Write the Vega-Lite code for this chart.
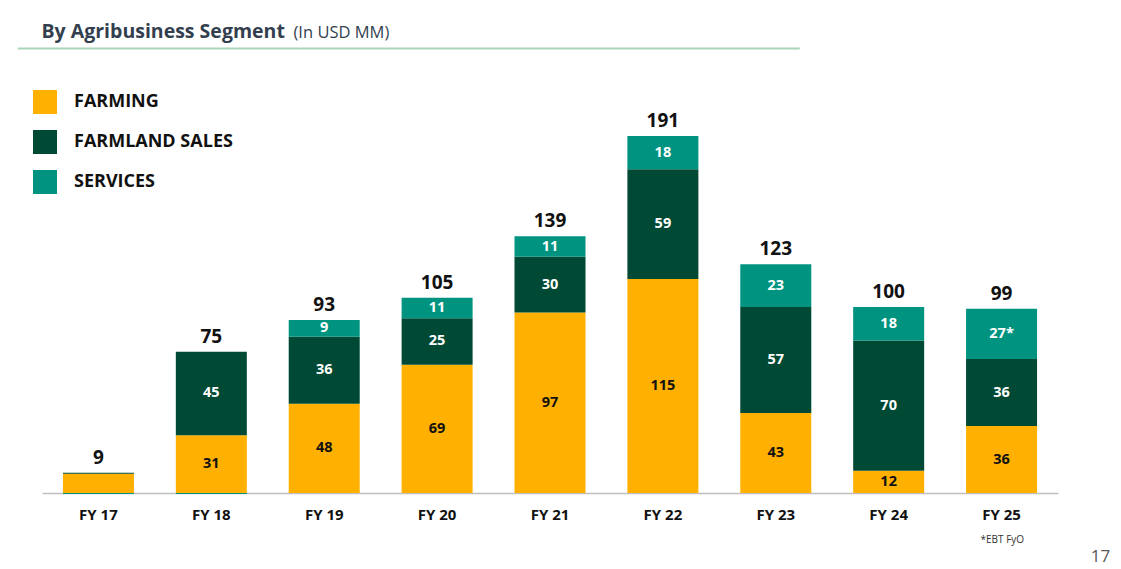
{
  "$schema": "https://vega.github.io/schema/vega-lite/v6.json",
  "autosize": "none",
  "width": 1016,
  "height": 372,
  "padding": {"left": 42, "top": 121, "right": 63, "bottom": 76},
  "background": "white",
  "config": {
    "view": {"stroke": null},
    "font": "Open Sans"
  },
  "datasets": {
    "segments": [
      {"year": "FY 17", "segment": "FARMING", "value": 10.3, "label": "", "ord": 1},
      {"year": "FY 17", "segment": "FARMLAND SALES", "value": 0.6, "label": "", "ord": 2},
      {"year": "FY 17", "segment": "SERVICES", "value": -0.6, "label": "", "ord": 3},
      {"year": "FY 18", "segment": "FARMING", "value": 31, "label": "31", "ord": 1},
      {"year": "FY 18", "segment": "FARMLAND SALES", "value": 45, "label": "45", "ord": 2},
      {"year": "FY 18", "segment": "SERVICES", "value": -0.6, "label": "", "ord": 3},
      {"year": "FY 19", "segment": "FARMING", "value": 48, "label": "48", "ord": 1},
      {"year": "FY 19", "segment": "FARMLAND SALES", "value": 36, "label": "36", "ord": 2},
      {"year": "FY 19", "segment": "SERVICES", "value": 9, "label": "9", "ord": 3},
      {"year": "FY 20", "segment": "FARMING", "value": 69, "label": "69", "ord": 1},
      {"year": "FY 20", "segment": "FARMLAND SALES", "value": 25, "label": "25", "ord": 2},
      {"year": "FY 20", "segment": "SERVICES", "value": 11, "label": "11", "ord": 3},
      {"year": "FY 21", "segment": "FARMING", "value": 97, "label": "97", "ord": 1},
      {"year": "FY 21", "segment": "FARMLAND SALES", "value": 30, "label": "30", "ord": 2},
      {"year": "FY 21", "segment": "SERVICES", "value": 11, "label": "11", "ord": 3},
      {"year": "FY 22", "segment": "FARMING", "value": 115, "label": "115", "ord": 1},
      {"year": "FY 22", "segment": "FARMLAND SALES", "value": 59, "label": "59", "ord": 2},
      {"year": "FY 22", "segment": "SERVICES", "value": 18, "label": "18", "ord": 3},
      {"year": "FY 23", "segment": "FARMING", "value": 43, "label": "43", "ord": 1},
      {"year": "FY 23", "segment": "FARMLAND SALES", "value": 57, "label": "57", "ord": 2},
      {"year": "FY 23", "segment": "SERVICES", "value": 23, "label": "23", "ord": 3},
      {"year": "FY 24", "segment": "FARMING", "value": 12, "label": "12", "ord": 1},
      {"year": "FY 24", "segment": "FARMLAND SALES", "value": 70, "label": "70", "ord": 2},
      {"year": "FY 24", "segment": "SERVICES", "value": 18, "label": "18", "ord": 3},
      {"year": "FY 25", "segment": "FARMING", "value": 36, "label": "36", "ord": 1},
      {"year": "FY 25", "segment": "FARMLAND SALES", "value": 36, "label": "36", "ord": 2},
      {"year": "FY 25", "segment": "SERVICES", "value": 27, "label": "27*", "ord": 3}
    ],
    "totals": [
      {"year": "FY 17", "total": 10.9, "label": "9"},
      {"year": "FY 18", "total": 76, "label": "75"},
      {"year": "FY 19", "total": 93, "label": "93"},
      {"year": "FY 20", "total": 105, "label": "105"},
      {"year": "FY 21", "total": 138, "label": "139"},
      {"year": "FY 22", "total": 192, "label": "191"},
      {"year": "FY 23", "total": 123, "label": "123"},
      {"year": "FY 24", "total": 100, "label": "100"},
      {"year": "FY 25", "total": 99, "label": "99"}
    ],
    "deco": [{"a": 1}]
  },
  "resolve": {"axis": {"x": "independent", "y": "independent"}},
  "layer": [
    {
      "data": {"name": "segments"},
      "mark": {"type": "bar", "width": 71},
      "encoding": {
        "x": {
          "field": "year", "type": "nominal", "sort": null,
          "scale": {"paddingInner": 0.37, "paddingOuter": 0.185},
          "axis": {
            "title": "*EBT FyO", "titleX": 938, "titleY": 49, "titleAlign": "left",
            "titleBaseline": "alphabetic", "titleFontSize": 10, "titleFontWeight": "normal",
            "titleColor": "#333333", "titleFont": "Open Sans",
            "labelAngle": 0, "labelFontSize": 15, "labelFontWeight": "bold", "labelColor": "#111111",
            "labelPadding": 14, "ticks": false, "domainColor": "#BFBFBF", "domainWidth": 1.5
          }
        },
        "y": {
          "field": "value", "type": "quantitative", "stack": "zero",
          "scale": {"domain": [0, 200], "nice": false},
          "axis": {
            "orient": "right", "labels": false, "ticks": false, "domain": false, "grid": false,
            "title": "17", "titleAngle": 0, "titleX": 42, "titleY": 440, "titleAlign": "center",
            "titleBaseline": "alphabetic", "titleFontSize": 17, "titleFontWeight": "normal", "titleColor": "#595959"
          }
        },
        "order": {"field": "ord", "type": "quantitative"},
        "color": {
          "field": "segment", "type": "nominal",
          "scale": {
            "domain": ["FARMING", "FARMLAND SALES", "SERVICES"],
            "range": ["#FFB000", "#004A35", "#009480"]
          },
          "legend": {
            "orient": "none", "legendX": -9, "legendY": -31, "title": null,
            "symbolType": "square", "symbolSize": 576, "symbolStrokeWidth": 0, "symbolOpacity": 1,
            "labelFontSize": 18, "labelFontWeight": "bold", "labelColor": "#111111", "labelFont": "Open Sans",
            "labelOffset": 17, "rowPadding": 16, "padding": 0
          }
        }
      }
    },
    {
      "data": {"name": "segments"},
      "transform": [
        {"stack": "value", "groupby": ["year"], "sort": [{"field": "ord"}], "as": ["v0", "v1"]},
        {"calculate": "(datum.v0 + datum.v1) / 2", "as": "mid"}
      ],
      "mark": {"type": "text", "fontSize": 14.5, "fontWeight": "bold", "font": "Open Sans", "baseline": "middle"},
      "encoding": {
        "x": {"field": "year", "type": "nominal", "sort": null, "axis": null},
        "y": {"field": "mid", "type": "quantitative", "axis": null},
        "text": {"field": "label"},
        "color": {
          "condition": {"test": "datum.segment === 'FARMING'", "value": "#111111"},
          "value": "#FFFFFF"
        }
      }
    },
    {
      "data": {"name": "totals"},
      "mark": {"type": "text", "fontSize": 19, "fontWeight": "bold", "font": "Open Sans", "baseline": "alphabetic", "dy": -9, "color": "#111111"},
      "encoding": {
        "x": {
          "field": "year", "type": "nominal", "sort": null,
          "axis": {
            "orient": "top", "labels": false, "ticks": false, "domain": false,
            "title": "(In USD MM)", "titleX": 251, "titleY": -84, "titleAlign": "left",
            "titleBaseline": "alphabetic", "titleFontSize": 16.5, "titleFontWeight": "normal",
            "titleColor": "#333F4F", "titleFont": "Open Sans"
          }
        },
        "y": {"field": "total", "type": "quantitative", "axis": null},
        "text": {"field": "label"}
      }
    },
    {
      "data": {"name": "deco"},
      "mark": {"type": "rule", "color": "#A9D5B8", "strokeWidth": 2, "xOffset": -45, "x2Offset": 24},
      "encoding": {
        "x": {"datum": "FY 17", "bandPosition": 0, "axis": null},
        "x2": {"datum": "FY 23"},
        "y": {
          "datum": 239,
          "axis": {
            "orient": "left", "labels": false, "ticks": false, "domain": false, "grid": false,
            "title": "By Agribusiness Segment", "titleAngle": 0, "titleX": -1, "titleY": -84,
            "titleAlign": "left", "titleBaseline": "alphabetic", "titleFontSize": 19.5,
            "titleFontWeight": "bold", "titleColor": "#333F4F", "titleFont": "Open Sans"
          }
        }
      }
    }
  ]
}
